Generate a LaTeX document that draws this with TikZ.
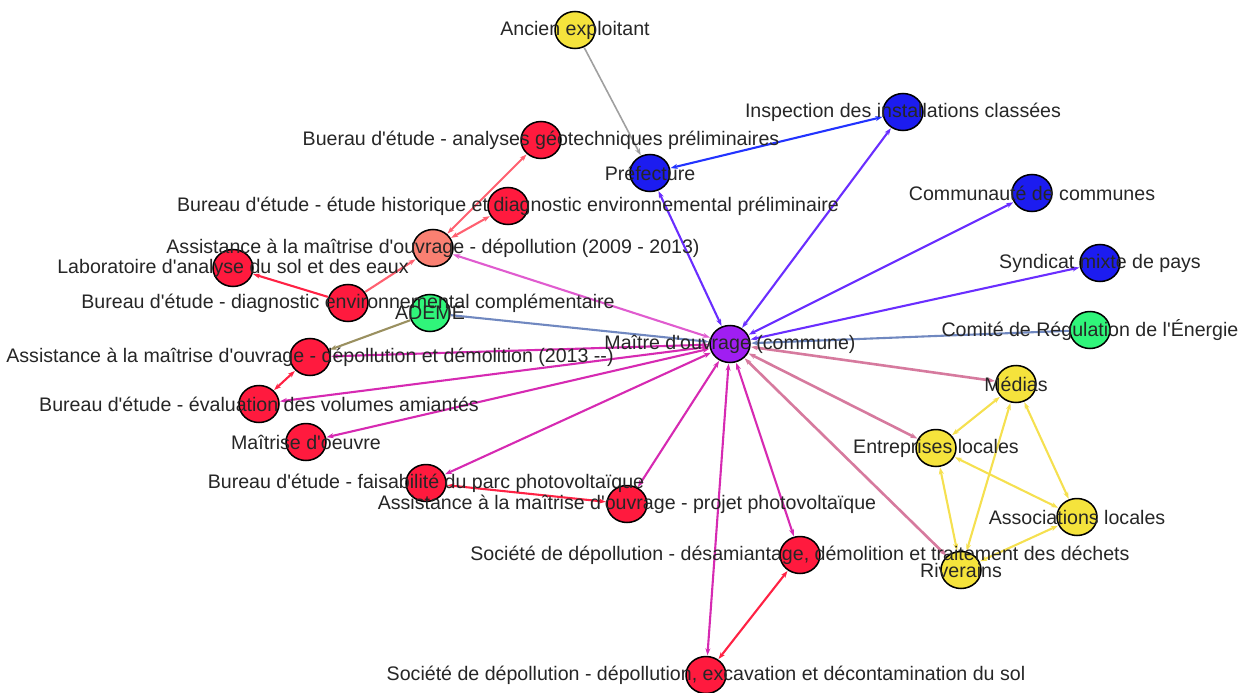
\documentclass[tikz,border=0pt]{standalone}
\usepackage{fontspec}
\setmainfont{Liberation Sans}[Ligatures=TeXOff]
\usepackage{tikz}
\usetikzlibrary{arrows.meta,shapes.geometric}
\pgfdeclarelayer{background}
\pgfsetlayers{background,main}

\definecolor{acteurrouge}{HTML}{FF1A3E}
\definecolor{acteursaumon}{HTML}{FA8072}
\definecolor{acteurbleu}{HTML}{1C1CF0}
\definecolor{acteurvert}{HTML}{30F57A}
\definecolor{acteurviolet}{HTML}{A01EF2}
\definecolor{acteurjaune}{HTML}{F5E33C}
\definecolor{lienmagenta}{HTML}{D62AB2}
\definecolor{lienrose}{HTML}{E05CCF}
\definecolor{lienviolet}{HTML}{6A2EFF}
\definecolor{lienbleu}{HTML}{2233FF}
\definecolor{lienvieuxrose}{HTML}{D67A9E}
\definecolor{lienacier}{HTML}{7088C0}
\definecolor{lienolive}{HTML}{9A9060}
\definecolor{lienrouge}{HTML}{FF2244}
\definecolor{lienrougeclair}{HTML}{FF6070}
\definecolor{lienjaune}{HTML}{F5E050}
\definecolor{liengris}{HTML}{A0A0A0}

\tikzset{
  acteur/.style={draw=black,line width=1.5pt,ellipse,minimum width=40pt,minimum height=37pt,inner sep=0pt},
  nom/.style={font=\fontsize{19.6}{22}\selectfont,text=black!85,inner sep=0pt},
  lien/.style={line width=2.1pt,shorten <=0.5pt,shorten >=0.5pt},
  double sens/.style={lien,{Stealth[length=7pt,width=5pt]}-{Stealth[length=7pt,width=5pt]}},
  sens unique/.style={lien,-{Stealth[length=7pt,width=5pt]}}
}

\begin{document}
\begin{tikzpicture}[x=1pt,y=-1pt]
  \useasboundingbox (0,0) rectangle (1248,693);
  % acteurs
  \node[acteur,fill=acteurjaune] (ancien) at (575,30) {};
  \node[acteur,fill=acteurbleu] (prefecture) at (650,173) {};
  \node[acteur,fill=acteurbleu] (inspection) at (903,112) {};
  \node[acteur,fill=acteurrouge] (geotech) at (541,140) {};
  \node[acteur,fill=acteurrouge] (historique) at (508,206) {};
  \node[acteur,fill=acteurbleu] (communaute) at (1032,193) {};
  \node[acteur,fill=acteursaumon] (amo09) at (433,248) {};
  \node[acteur,fill=acteurrouge] (labo) at (233,268) {};
  \node[acteur,fill=acteurbleu] (syndicat) at (1100,263) {};
  \node[acteur,fill=acteurrouge] (diagcompl) at (348,303) {};
  \node[acteur,fill=acteurvert] (ademe) at (430,313) {};
  \node[acteur,fill=acteurvert] (comite) at (1090,330) {};
  \node[acteur,fill=acteurviolet] (maitre) at (730,344) {};
  \node[acteur,fill=acteurrouge] (amo13) at (310,357) {};
  \node[acteur,fill=acteurjaune] (medias) at (1016,384) {};
  \node[acteur,fill=acteurrouge] (evaluation) at (259,404) {};
  \node[acteur,fill=acteurrouge] (moe) at (306,442) {};
  \node[acteur,fill=acteurjaune] (entreprises) at (936,448) {};
  \node[acteur,fill=acteurrouge] (faisabilite) at (426,483) {};
  \node[acteur,fill=acteurrouge] (amopv) at (627,504) {};
  \node[acteur,fill=acteurjaune] (associations) at (1077,517) {};
  \node[acteur,fill=acteurrouge] (desamiantage) at (800,555) {};
  \node[acteur,fill=acteurjaune] (riverains) at (961,570) {};
  \node[acteur,fill=acteurrouge] (excavation) at (706,675) {};

  \begin{pgfonlayer}{background}
    % liens vers le maitre d'ouvrage
    \draw[double sens,lienviolet] (maitre) -- (prefecture);
    \draw[double sens,lienviolet] (maitre) -- (inspection);
    \draw[double sens,lienviolet] (maitre) -- (communaute);
    \draw[double sens,lienviolet] (maitre) -- (syndicat);
    \draw[sens unique,lienacier] (comite) -- (maitre);
    \draw[sens unique,lienacier] (ademe) -- (maitre);
    \draw[double sens,lienrose] (maitre) -- (amo09);
    \foreach \a in {amo13,evaluation,moe,faisabilite,amopv,desamiantage,excavation}
      \draw[double sens,lienmagenta] (maitre) -- (\a);
    \foreach \a in {medias,entreprises,riverains}
      \draw[double sens,lienvieuxrose,line width=2.6pt] (maitre) -- (\a);
    % autres liens
    \draw[sens unique,liengris,line width=1.6pt] (ancien) -- (prefecture);
    \draw[double sens,lienbleu] (inspection) -- (prefecture);
    \draw[sens unique,lienolive] (ademe) -- (amo13);
    \draw[double sens,lienrougeclair] (amo09) -- (geotech);
    \draw[double sens,lienrougeclair] (amo09) -- (historique);
    \draw[sens unique,lienrougeclair] (diagcompl) -- (amo09);
    \draw[sens unique,lienrouge] (diagcompl) -- (labo);
    \draw[double sens,lienrouge] (amo13) -- (evaluation);
    \draw[double sens,lienrouge] (faisabilite) -- (amopv);
    \draw[double sens,lienrouge] (desamiantage) -- (excavation);
    % acteurs locaux
    \draw[double sens,lienjaune] (entreprises) -- (medias);
    \draw[double sens,lienjaune] (riverains) -- (medias);
    \draw[double sens,lienjaune] (associations) -- (medias);
    \draw[double sens,lienjaune] (entreprises) -- (associations);
    \draw[double sens,lienjaune] (entreprises) -- (riverains);
    \draw[double sens,lienjaune] (riverains) -- (associations);
  \end{pgfonlayer}

  % noms des acteurs
  \node[nom] (ancien-n) at (ancien) {Ancien exploitant};
  \node[nom] (prefecture-n) at (prefecture) {Préfecture};
  \node[nom] (inspection-n) at (inspection) {Inspection des installations classées};
  \node[nom] (geotech-n) at (geotech) {Buerau d'étude - analyses géotechniques préliminaires};
  \node[nom] (historique-n) at (historique) {Bureau d'étude - étude historique et diagnostic environnemental préliminaire};
  \node[nom] (communaute-n) at (communaute) {Communauté de communes};
  \node[nom] (amo09-n) at (amo09) {Assistance à la maîtrise d'ouvrage - dépollution (2009 - 2013)};
  \node[nom] (labo-n) at (labo) {Laboratoire d'analyse du sol et des eaux};
  \node[nom] (syndicat-n) at (syndicat) {Syndicat mixte de pays};
  \node[nom] (diagcompl-n) at (diagcompl) {Bureau d'étude - diagnostic environnemental complémentaire};
  \node[nom] (ademe-n) at (ademe) {ADEME};
  \node[nom] (comite-n) at (comite) {Comité de Régulation de l'Énergie};
  \node[nom] (maitre-n) at (maitre) {Maître d'ouvrage (commune)};
  \node[nom] (amo13-n) at (amo13) {Assistance à la maîtrise d'ouvrage - dépollution et démolition (2013 --)};
  \node[nom] (medias-n) at (medias) {Médias};
  \node[nom] (evaluation-n) at (evaluation) {Bureau d'étude - évaluation des volumes amiantés};
  \node[nom] (moe-n) at (moe) {Maîtrise d'oeuvre};
  \node[nom] (entreprises-n) at (entreprises) {Entreprises locales};
  \node[nom] (faisabilite-n) at (faisabilite) {Bureau d'étude - faisabilité du parc photovoltaïque};
  \node[nom] (amopv-n) at (amopv) {Assistance à la maîtrise d'ouvrage - projet photovoltaïque};
  \node[nom] (associations-n) at (associations) {Associations locales};
  \node[nom] (desamiantage-n) at (desamiantage) {Société de dépollution - désamiantage, démolition et traitement des déchets};
  \node[nom] (riverains-n) at (riverains) {Riverains};
  \node[nom] (excavation-n) at (excavation) {Société de dépollution - dépollution, excavation et décontamination du sol};
\end{tikzpicture}
\end{document}
